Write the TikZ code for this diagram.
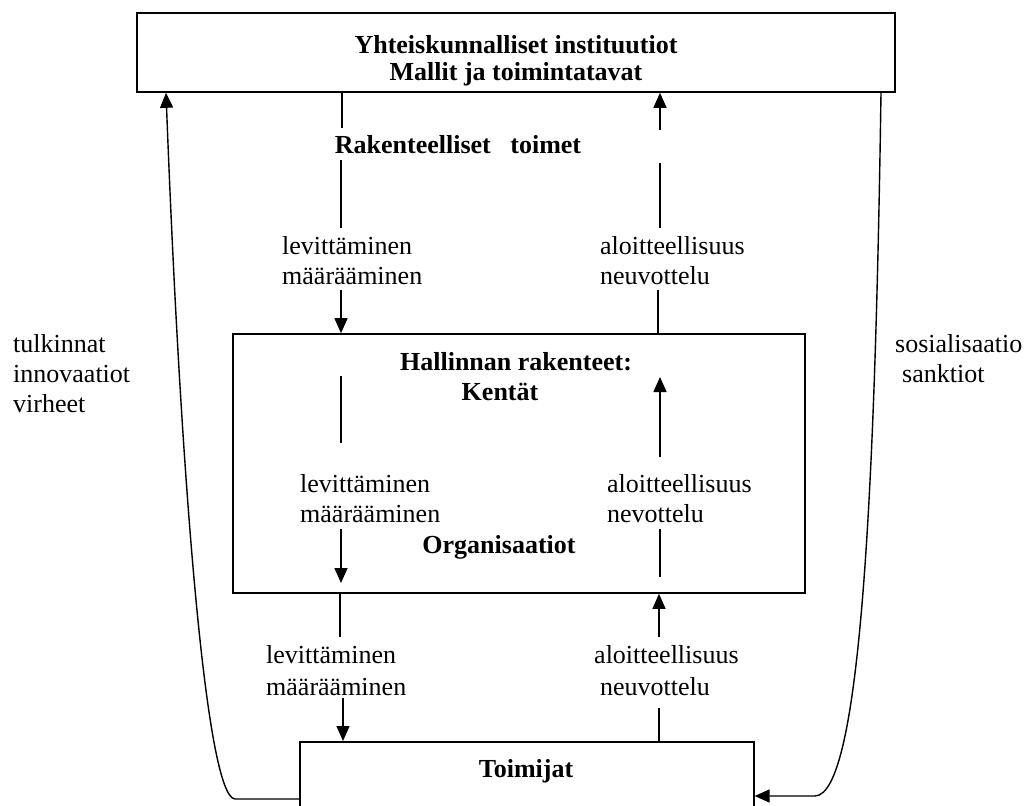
\documentclass[tikz,border=0pt]{standalone}
\usepackage{fontspec}
\setmainfont{Liberation Serif}
\usetikzlibrary{arrows.meta}
\begin{document}
\begin{tikzpicture}[x=1pt,y=-1pt,
  box/.style={draw,line width=1.6pt,inner sep=0pt},
  ln/.style={line width=1.4pt},
  arr/.style={ln,-{Triangle[length=15pt,width=13pt]}},
  lab/.style={inner sep=0pt,font=\fontsize{26}{30}\selectfont},
  blab/.style={inner sep=0pt,font=\fontsize{26}{30}\selectfont\bfseries}]
\useasboundingbox (0,0) rectangle (1026,806);
% boxes
\node[box,minimum width=758pt,minimum height=79pt] (top) at (516,52.5) {};
\node[box,minimum width=572pt,minimum height=259pt] (mid) at (519,463.5) {};
\node[box,minimum width=454pt,minimum height=100pt,anchor=north west] (bot) at (299,741) {};
% box texts
\node[blab,anchor=base] (t1) at (516,53) {Yhteiskunnalliset instituutiot};
\node[blab,anchor=base] (t2) at (516,80) {Mallit ja toimintatavat};
\node[blab,anchor=base] (rak) at (458,153) {Rakenteelliset\ \ \ toimet};
\node[blab,anchor=base] (hal) at (516,370) {Hallinnan rakenteet:};
\node[blab,anchor=base] (ken) at (500,400) {Kentät};
\node[blab,anchor=base] (org) at (499,553) {Organisaatiot};
\node[blab,anchor=base] (toi) at (526,777) {Toimijat};
% labels upper
\node[lab,anchor=base west] (ula) at (282,254) {levittäminen};
\node[lab,anchor=base west] (ulb) at (282,284) {määrääminen};
\node[lab,anchor=base west] (ura) at (600,254) {aloitteellisuus};
\node[lab,anchor=base west] (urb) at (600,284) {neuvottelu};
% labels middle
\node[lab,anchor=base west] (mla) at (300,492) {levittäminen};
\node[lab,anchor=base west] (mlb) at (300,522) {määrääminen};
\node[lab,anchor=base west] (mra) at (607,492) {aloitteellisuus};
\node[lab,anchor=base west] (mrb) at (607,522) {nevottelu};
% labels lower
\node[lab,anchor=base west] (lla) at (266,663) {levittäminen};
\node[lab,anchor=base west] (llb) at (266,695) {määrääminen};
\node[lab,anchor=base west] (lra) at (594,663) {aloitteellisuus};
\node[lab,anchor=base west] (lrb) at (600,695) {neuvottelu};
% side labels
\node[lab,anchor=base west] (sl1) at (13,352) {tulkinnat};
\node[lab,anchor=base west] (sl2) at (13,382) {innovaatiot};
\node[lab,anchor=base west] (sl3) at (13,412) {virheet};
\node[lab,anchor=base west] (sr1) at (895,352) {sosialisaatio};
\node[lab,anchor=base west] (sr2) at (902,382) {sanktiot};
% coordinates
\coordinate (ul1) at (342,128);
\coordinate (ul2) at (341,160);
\coordinate (ul3) at (341,228);
\coordinate (ul4) at (341,290);
\coordinate (ur1) at (660,130);
\coordinate (ur2) at (660,163);
\coordinate (ur3) at (660,228);
\coordinate (ur4) at (658,290);
\coordinate (ml1) at (341,376);
\coordinate (ml2) at (341,443);
\coordinate (ml3) at (341,529);
\coordinate (ml4) at (341,583);
\coordinate (mr1) at (660,457);
\coordinate (mr2) at (660,377);
\coordinate (mr3) at (660,529);
\coordinate (mr4) at (660,577);
\coordinate (ll1) at (340,637);
\coordinate (ll2) at (343,698);
\coordinate (lr1) at (659,637);
\coordinate (lr2) at (659,708);
\coordinate (lx) at (166,0);
\coordinate (lb) at (235,799);
\coordinate (rx) at (881,0);
\coordinate (rb) at (815,796);
% upper connectors
\draw[ln] (top.south -| ul1) -- (ul1);
\draw[ln] (ul2) -- (ul3);
\draw[arr] (ul4) -- (mid.north -| ul4);
\draw[arr] (ur1) -- (top.south -| ur1);
\draw[ln] (ur2) -- (ur3);
\draw[ln] (ur4) -- (mid.north -| ur4);
% middle connectors
\draw[ln] (ml1) -- (ml2);
\draw[arr] (ml3) -- (ml4);
\draw[arr] (mr1) -- (mr2);
\draw[ln] (mr3) -- (mr4);
% lower connectors
\draw[ln] (mid.south -| ll1) -- (ll1);
\draw[arr] (ll2) -- (bot.north -| ll2);
\draw[arr] (lr1) -- (mid.south -| lr1);
\draw[ln] (lr2) -- (bot.north -| lr2);
% feedback loops
\draw[arr] (bot.west |- lb) -- (lb) .. controls (205,797) and (180,460) .. (top.south -| lx);
\draw[arr] (top.south -| rx) .. controls (875,500) and (860,795) .. (rb) -- (bot.east |- rb);
\end{tikzpicture}
\end{document}
